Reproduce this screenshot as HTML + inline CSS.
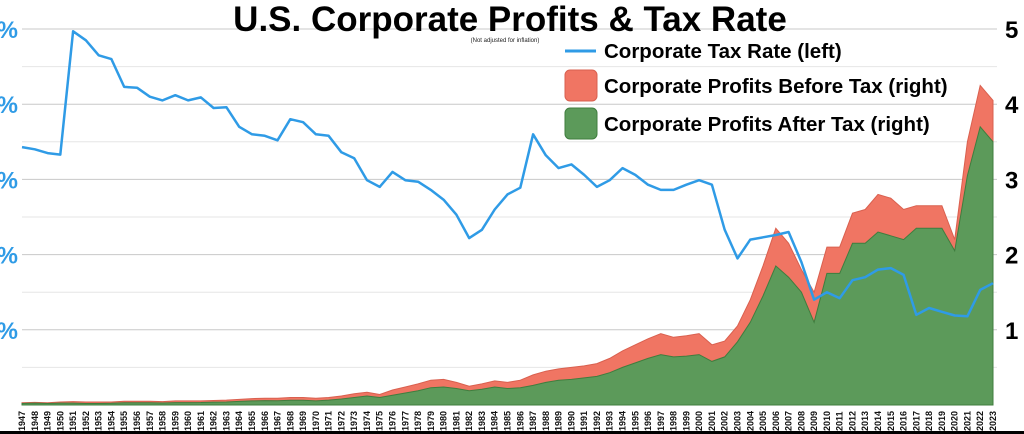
<!DOCTYPE html>
<html><head><meta charset="utf-8"><style>
html,body{margin:0;padding:0;background:#fff;width:1024px;height:434px;overflow:hidden}
svg{display:block;font-family:"Liberation Sans",Arial,sans-serif}
</style></head><body>
<svg id="chart" width="1024" height="434" viewBox="0 0 1024 434">
<g id="grid"></g>
<g id="areas"></g>
<g id="line"></g>
<g id="xaxis"></g>
<g id="yleft"></g>
<g id="yright"></g>
<text x="510" y="31" text-anchor="middle" font-size="35" font-weight="bold" fill="#000">U.S. Corporate Profits &amp; Tax Rate</text>
<text x="505" y="42" text-anchor="middle" font-size="6" fill="#222">(Not adjusted for inflation)</text>
<g>
<line x1="565" y1="51" x2="596" y2="51" stroke="#2f9be6" stroke-width="3"/>
<text x="604" y="58" font-size="20.5" font-weight="bold" fill="#000">Corporate Tax Rate (left)</text>
<rect x="565" y="70" width="32" height="31" rx="5" fill="#f07563" stroke="#d9604f"/>
<text x="604" y="93" font-size="20.5" font-weight="bold" fill="#000">Corporate Profits Before Tax (right)</text>
<rect x="565" y="108" width="32" height="31" rx="5" fill="#5c9a5a" stroke="#3f7d3e"/>
<text x="604" y="131" font-size="20.5" font-weight="bold" fill="#000">Corporate Profits After Tax (right)</text>
</g>
<rect x="0" y="431" width="1024" height="3" fill="#000"/>
</svg>
<script>
const startYear = 1947;
const beforeTax = [.03,.035,.03,.04,.045,.04,.04,.04,.05,.05,
.05,.045,.055,.055,.055,.06,.065,.075,.085,.09,
.09,.10,.10,.09,.10,.12,.15,.17,.14,.20,
.24,.28,.33,.34,.30,.25,.28,.32,.30,.33,
.40,.45,.48,.50,.52,.55,.62,.72,.80,.88,
.95,.90,.92,.95,.80,.85,1.05,1.40,1.85,2.35,
2.15,1.80,1.50,2.10,2.10,2.55,2.60,2.80,2.75,2.60,
2.65,2.65,2.65,2.20,3.50,4.25,4.05];
const afterTax = [.02,.025,.02,.025,.025,.02,.02,.022,.03,.03,
.03,.027,.032,.032,.033,.038,.04,.048,.055,.058,
.057,.063,.062,.055,.065,.08,.10,.12,.10,.13,
.16,.19,.23,.24,.22,.19,.21,.24,.22,.23,
.26,.30,.33,.34,.36,.38,.43,.50,.56,.62,
.67,.64,.65,.67,.58,.64,.84,1.10,1.45,1.85,
1.70,1.50,1.10,1.75,1.75,2.15,2.15,2.30,2.25,2.20,
2.35,2.35,2.35,2.05,3.05,3.70,3.50];
const taxRate = [34.3,34.0,33.5,33.3,49.7,48.5,46.5,46.0,42.3,42.2,
41.0,40.5,41.2,40.5,40.9,39.5,39.6,37.0,36.0,35.8,
35.2,38.0,37.6,36.0,35.8,33.6,32.8,29.9,29.0,31.0,
29.9,29.7,28.6,27.3,25.3,22.2,23.3,26.0,28.0,28.9,
36.0,33.2,31.5,32.0,30.6,29.0,29.9,31.5,30.6,29.3,
28.6,28.6,29.3,29.9,29.3,23.3,19.5,22.0,22.3,22.6,
23.0,19.0,14.0,15.0,14.2,16.6,17.0,18.0,18.2,17.3,
12.0,12.9,12.4,11.9,11.8,15.3,16.2];
const rightTicks = ["1","2","3","4","5"];
const leftTicks = ["10%","20%","30%","40%","50%"];

const NS="http://www.w3.org/2000/svg";
const X0=22, X1=993, Y0=405, Ytop=29;
const n=taxRate.length;
function xs(i){return X0+i*(X1-X0)/(n-1);}
function yR(v){return Y0-v/5*(Y0-Ytop);}
function yL(v){return Y0-v/50*(Y0-Ytop);}
function mk(tag,attrs,parent){const e=document.createElementNS(NS,tag);for(const k in attrs)e.setAttribute(k,attrs[k]);parent.appendChild(e);return e;}

const grid=document.getElementById('grid');
for(let k=1;k<=10;k++){
  const y=Y0-k*(Y0-Ytop)/10;
  const l=mk('line',{x1:X0,x2:X1+4,y1:y,y2:y,stroke:k%2===0?'#c8c8c8':'#e6e6e6','stroke-width':1},grid);
  
  
}
function areaPath(arr){
  let d='M'+xs(0)+','+Y0;
  arr.forEach((v,i)=>{d+=' L'+xs(i).toFixed(1)+','+yR(v).toFixed(1);});
  d+=' L'+xs(n-1)+','+Y0+' Z';return d;
}
const areas=document.getElementById('areas');
const a1=mk('path',{d:areaPath(beforeTax),fill:'#f07563',stroke:'#d9604f','stroke-width':1},areas);


const a2=mk('path',{d:areaPath(afterTax),fill:'#5c9a5a',stroke:'#3f7d3e','stroke-width':1},areas);


let ld='';
taxRate.forEach((v,i)=>{ld+=(i?' L':'M')+xs(i).toFixed(1)+','+yL(v).toFixed(1);});
const ln=mk('path',{d:ld,fill:'none',stroke:'#2f9be6','stroke-width':2.5,'stroke-linejoin':'round'},document.getElementById('line'));



const xa=document.getElementById('xaxis');
for(let i=0;i<n;i++){
  const x=xs(i);
  const t=mk('text',{x:0,y:0,transform:'translate('+(x+3)+',431) rotate(-90)','font-size':9,'font-weight':'bold',fill:'#111'},xa);
  t.textContent=String(startYear+i);
  
  
}
const yl=document.getElementById('yleft');
leftTicks.forEach((s,k)=>{
  const t=mk('text',{x:18,y:yL((k+1)*10)+9,'text-anchor':'end','font-size':24,'font-weight':'bold',fill:'#2f9be6'},yl);
  t.textContent=s;
  
  
});
const yr=document.getElementById('yright');
rightTicks.forEach((s,k)=>{
  const t=mk('text',{x:1005,y:yR(k+1)+9,'font-size':24,'font-weight':'bold',fill:'#000'},yr);
  t.textContent=s;
  
  
});
</script>
</body></html>
